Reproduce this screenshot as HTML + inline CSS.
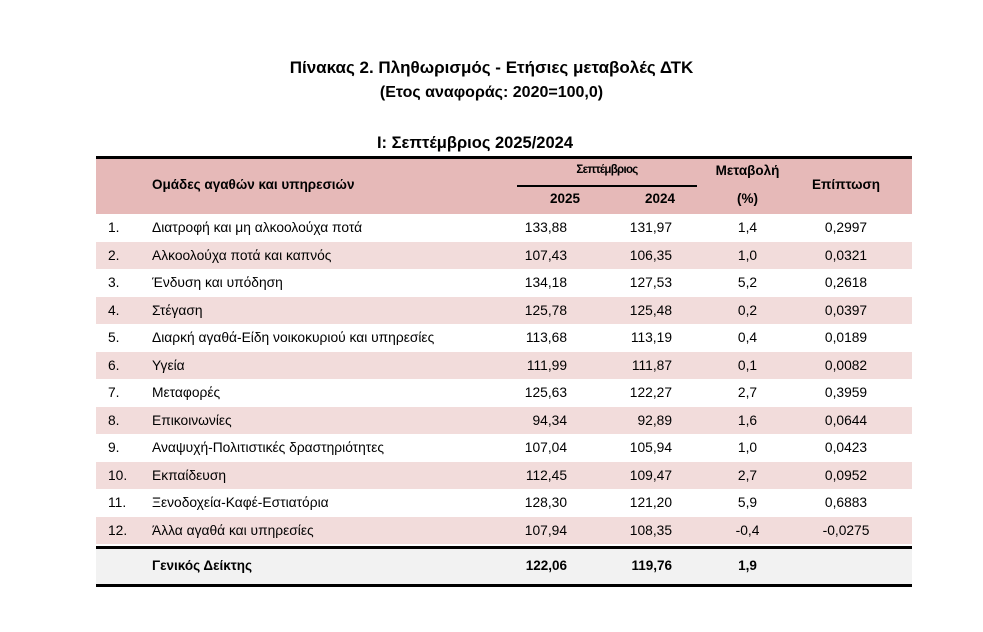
<!DOCTYPE html>
<html><head><meta charset="utf-8"><style>
body{margin:0;width:983px;height:632px;background:#fff;font-family:"Liberation Sans","DejaVu Sans",sans-serif;color:#000;position:relative;overflow:hidden}
.a{position:absolute;white-space:nowrap}
.b{font-weight:bold}
.r{position:absolute;left:96px;width:816px;height:27.5px}
.t{position:absolute;font-size:13.8px;line-height:27.5px;white-space:nowrap}
</style></head><body>
<div class="a b" style="left:0;width:983px;text-align:center;top:58px;font-size:17px">Πίνακας 2. Πληθωρισμός - Ετήσιες μεταβολές ΔΤΚ</div>
<div class="a b" style="left:0;width:983px;text-align:center;top:84px;font-size:16px">(Ετος αναφοράς: 2020=100,0)</div>
<div class="a b" style="left:0;width:950px;text-align:center;top:134px;font-size:16.5px">I: Σεπτέμβριος 2025/2024</div>
<div class="a" style="left:96px;top:156px;width:816px;height:3px;background:#000"></div>
<div class="a" style="left:96px;top:159px;width:816px;height:56px;background:#e6b9b8"></div>
<div class="a" style="left:517px;top:185px;width:180px;height:2px;background:#000"></div>
<div class="a b" style="left:152px;top:177px;font-size:13.5px">Ομάδες αγαθών και υπηρεσιών</div>
<div class="a b" style="left:517px;width:180px;text-align:center;top:164px;font-size:11.5px;letter-spacing:-0.7px">Σεπτέμβριος</div>
<div class="a b" style="left:530px;width:70px;text-align:center;top:191px;font-size:13.5px">2025</div>
<div class="a b" style="left:625px;width:70px;text-align:center;top:191px;font-size:13.5px">2024</div>
<div class="a b" style="left:705px;width:85px;text-align:center;top:163px;font-size:13.5px">Μεταβολή</div>
<div class="a b" style="left:705px;width:85px;text-align:center;top:191px;font-size:13.5px">(%)</div>
<div class="a b" style="left:800px;width:92px;text-align:center;top:177px;font-size:13.5px">Επίπτωση</div>
<div id="rows"></div>
<script>
var d=[["1.","Διατροφή και μη αλκοολούχα ποτά","133,88","131,97","1,4","0,2997"],
["2.","Αλκοολούχα ποτά και καπνός","107,43","106,35","1,0","0,0321"],
["3.","Ένδυση και υπόδηση","134,18","127,53","5,2","0,2618"],
["4.","Στέγαση","125,78","125,48","0,2","0,0397"],
["5.","Διαρκή αγαθά-Είδη νοικοκυριού και υπηρεσίες","113,68","113,19","0,4","0,0189"],
["6.","Υγεία","111,99","111,87","0,1","0,0082"],
["7.","Μεταφορές","125,63","122,27","2,7","0,3959"],
["8.","Επικοινωνίες","94,34","92,89","1,6","0,0644"],
["9.","Αναψυχή-Πολιτιστικές δραστηριότητες","107,04","105,94","1,0","0,0423"],
["10.","Εκπαίδευση","112,45","109,47","2,7","0,0952"],
["11.","Ξενοδοχεία-Καφέ-Εστιατόρια","128,30","121,20","5,9","0,6883"],
["12.","Άλλα αγαθά και υπηρεσίες","107,94","108,35","-0,4","-0,0275"]];
var h="";
d.forEach(function(r,i){var y=214+i*27.5;
h+='<div class="r" style="top:'+y+'px;background:'+(i%2?'#f2dcdb':'#fff')+'">'+
'<div class="t" style="left:12px">'+r[0]+'</div>'+
'<div class="t" style="left:56px">'+r[1]+'</div>'+
'<div class="t" style="right:345px">'+r[2]+'</div>'+
'<div class="t" style="right:240px">'+r[3]+'</div>'+
'<div class="t" style="left:609px;width:85px;text-align:center">'+r[4]+'</div>'+
'<div class="t" style="left:704px;width:92px;text-align:center">'+r[5]+'</div></div>';});
document.getElementById("rows").innerHTML=h;
</script>
<div class="a" style="left:96px;top:546px;width:816px;height:3px;background:#000"></div>
<div class="a" style="left:96px;top:549px;width:816px;height:35px;background:#f2f2f2"></div>
<div class="a" style="left:96px;top:584px;width:816px;height:3px;background:#000"></div>
<div class="a b" style="left:152px;top:558px;font-size:13.5px">Γενικός Δείκτης</div>
<div class="a b" style="right:416px;top:558px;font-size:13.5px">122,06</div>
<div class="a b" style="right:311px;top:558px;font-size:13.5px">119,76</div>
<div class="a b" style="left:705px;width:85px;text-align:center;top:558px;font-size:13.5px">1,9</div>
</body></html>
